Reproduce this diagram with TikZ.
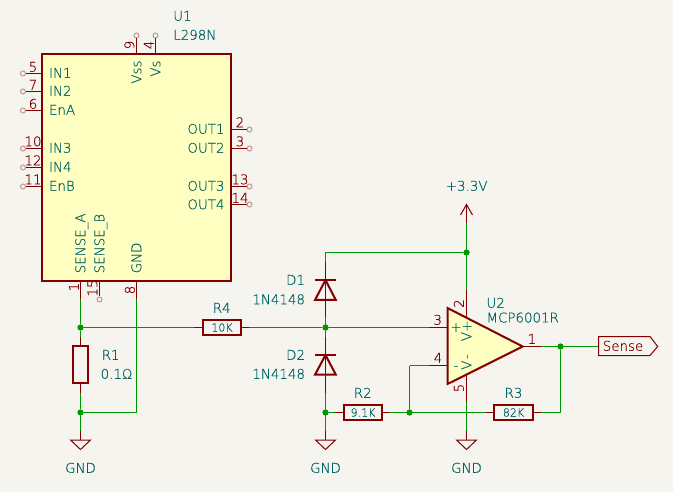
\documentclass[tikz,border=0pt]{standalone}
\usepackage{fontspec}
\setmainfont[FakeBold=0.3]{DejaVu Sans ExtraLight}
\definecolor{bgc}{HTML}{F5F4EF}
\definecolor{sym}{HTML}{840000}
\definecolor{wirec}{HTML}{009600}
\definecolor{txt}{HTML}{006464}
\definecolor{bodyc}{HTML}{FFFFC2}
\definecolor{endc}{HTML}{C49494}
\tikzset{
  lbl/.style={inner sep=0pt,outer sep=0pt,text height=9.5pt,text depth=0pt,text=txt,font=\fontsize{13.4}{13.4}\selectfont},
  small/.style={lbl,text height=8pt,font=\fontsize{11}{11}\selectfont},
  num/.style={lbl,text=sym},
  vert/.style={rotate=90},
  pinline/.style={draw=sym,line width=1pt},
  wire/.style={draw=wirec,line width=1pt},
  body/.style={draw=sym,line width=2pt,line join=miter},
  resh/.style={rectangle,draw=sym,line width=2pt,inner sep=0pt,outer sep=0pt,minimum width=38.5pt,minimum height=15pt},
  resv/.style={resh,minimum width=15pt,minimum height=37.5pt},
  pinend/.style={circle,draw=endc,line width=1pt,inner sep=0pt,minimum size=5pt},
  dot/.style={circle,fill=wirec,inner sep=0pt,minimum size=6pt},
  gndsym/.style={draw=sym,line width=1pt,line join=miter},
}
\begin{document}
\begin{tikzpicture}[x=1pt,y=-1pt]
\useasboundingbox[fill=bgc] (0,0) rectangle (673,492);

% U1 body
\node[rectangle,draw=sym,fill=bodyc,line width=2pt,inner sep=0pt,outer sep=0pt,minimum width=188.5pt,minimum height=227pt] (u1) at (136.5,167.5) {};

% U1 pin ends
\node[pinend] (p5) at (23,73.5) {};
\node[pinend] (p7) at (23,91.5) {};
\node[pinend] (p6) at (23,110.5) {};
\node[pinend] (p10) at (23,148.5) {};
\node[pinend] (p12) at (23,167.5) {};
\node[pinend] (p11) at (23,186.5) {};
\node[pinend] (p2) at (249.5,129.5) {};
\node[pinend] (p3) at (249.5,148.5) {};
\node[pinend] (p13) at (249.5,186.5) {};
\node[pinend] (p14) at (249.5,204.5) {};
\node[pinend] (p9) at (136.5,35.5) {};
\node[pinend] (p4) at (155.5,35.5) {};
\node[pinend] (p15) at (99.5,299.5) {};
\foreach \n/\y in {p5/73.5,p7/91.5,p6/110.5,p10/148.5,p12/167.5,p11/186.5}
  \draw[pinline] (\n.east) -- (42,\y);
\foreach \n/\y in {p2/129.5,p3/148.5,p13/186.5,p14/204.5}
  \draw[pinline] (\n.west) -- (230.5,\y);
\draw[pinline] (p9.south) -- (136.5,54);
\draw[pinline] (p4.south) -- (155.5,54);
\draw[pinline] (p15.north) -- (99.5,281);

% junctions and free wire points
\coordinate (u1a) at (80.5,299.5);
\coordinate (u1g) at (136.5,299.5);
\node[dot] (j1) at (80.5,327.5) {};
\node[dot] (j2) at (80.5,412.5) {};
\node[dot] (j3) at (325.5,327.5) {};
\node[dot] (j4) at (325.5,412.5) {};
\node[dot] (j5) at (409.5,412.5) {};
\node[dot] (j6) at (466.5,252.5) {};
\node[dot] (j7) at (560.5,346.5) {};
\coordinate (c2) at (136.5,412.5);
\coordinate (c3) at (325.5,252.5);
\coordinate (c4) at (409.5,365.5);
\coordinate (c5) at (560.5,412.5);

% components
\node[resv] (r1) at (80.5,364.7) {};
\node[resh] (r4) at (222,327.5) {};
\node[resh] (r2) at (363,412.5) {};
\node[resh] (r3) at (513.5,412.5) {};

% symbol coordinates
\coordinate (d1a) at (325.5,262);
\coordinate (d1b) at (325.5,317);
\coordinate (d2a) at (325.5,337);
\coordinate (d2b) at (325.5,393);
\coordinate (g1) at (80.5,431);
\coordinate (g2) at (325.5,431);
\coordinate (g3) at (466.5,431);
\coordinate (r1t) at (80.5,337);
\coordinate (r1b) at (80.5,393);
\coordinate (r4l) at (194,327.5);
\coordinate (r4r) at (249,327.5);
\coordinate (r2l) at (335,412.5);
\coordinate (r2r) at (390,412.5);
\coordinate (r3l) at (486,412.5);
\coordinate (r3r) at (541,412.5);
\coordinate (o3) at (429,327.5);
\coordinate (o4) at (429,365.5);
\coordinate (o2) at (466.5,290);
\coordinate (o5) at (466.5,401.7);
\coordinate (o1) at (541,346.5);
\coordinate (pw) at (466.5,222.7);
\coordinate (tip) at (522.7,346.5);

% wires
\draw[wire] (u1a) -- (j1) -- (r1t);
\draw[wire] (r1b) -- (j2) -- (g1);
\draw[wire] (j1) -- (r4l);
\draw[wire] (r4r) -- (j3);
\draw[wire] (j2) -- (c2) -- (u1g);
\draw[wire] (c3) -- (j6);
\draw[wire] (c3) -- (d1a);
\draw[wire] (d1b) -- (d2a);
\draw[wire] (d2b) -- (g2);
\draw[wire] (j3) -- (o3);
\draw[wire] (j4) -- (r2l);
\draw[wire] (r2r) -- (r3l);
\draw[wire] (c4) -- (j5);
\draw[wire] (c4) -- (o4);
\draw[wire] (r3r) -- (c5) -- (j7);
\draw[wire] (pw) -- (o2);
\draw[wire] (o5) -- (g3);
\draw[wire] (o1) -- (598.5,346.5);

% redraw dots over wires
\foreach \j in {j1,j2,j3,j4,j5,j6,j7} \fill[wirec] (\j) circle (3pt);

% U1 power stubs
\draw[pinline] (80.5,281) -- (u1a);
\draw[pinline] (136.5,281) -- (u1g);

% resistor leads
\draw[pinline] (r1t) -- (r1.north);
\draw[pinline] (r1.south) -- (r1b);
\draw[pinline] (r4l) -- (r4.west);
\draw[pinline] (r4.east) -- (r4r);
\draw[pinline] (r2l) -- (r2.west);
\draw[pinline] (r2.east) -- (r2r);
\draw[pinline] (r3l) -- (r3.west);
\draw[pinline] (r3.east) -- (r3r);

% diodes
\draw[pinline] (d1a) -- (d1b);
\draw[pinline] (d2a) -- (d2b);
\draw[body] (315,280) -- (335.8,280);
\draw[body] (325.5,280) -- (315,300) -- (335.8,300) -- cycle;
\draw[body] (315,355) -- (335.8,355);
\draw[body] (325.5,355) -- (315,374.7) -- (335.8,374.7) -- cycle;

% grounds
\foreach \g/\x in {g1/80.5,g2/325.5,g3/466.5}{
  \draw[pinline] (\g) -- (\x,440);
  \draw[gndsym] (\x-10,440) -- (\x+10,440) -- (\x,449.5) -- cycle;
}

% +3.3V
\draw[pinline] (pw) -- (466.5,204.5);
\draw[pinline] (460.5,215) -- (466.5,204.5) -- (472.5,215);

% op amp
\draw[pinline] (o2) -- (466.5,318);
\draw[pinline] (o5) -- (466.5,372);
\draw[pinline] (o3) -- (447.5,327.5);
\draw[pinline] (o4) -- (447.5,365.5);
\draw[pinline] (tip) -- (o1);
\draw[body,fill=bodyc] (447.5,308) -- (tip) -- (447.5,384) -- cycle;

% Sense flag
\draw[draw=sym,line width=1pt,line join=miter] (598.5,336.5) -- (650,336.5) -- (657.7,346.5) -- (650,355.5) -- (598.5,355.5) -- cycle;
\node[num] (senselab) at (623,346) {Sense};

% labels U1
\node[lbl,anchor=west] (u1ref) at (173.3,16) {U1};
\node[lbl,anchor=west] (u1val) at (173.3,35) {L298N};
\foreach \t/\y in {IN1/73,IN2/91,EnA/110,IN3/148,IN4/167,EnB/186}
  \node[lbl,anchor=west] at (49,\y) {\t};
\foreach \t/\y in {OUT1/129,OUT2/148,OUT3/186,OUT4/204.5}
  \node[lbl,anchor=east] at (224.5,\y) {\t};
\node[lbl,vert,anchor=east] (nvss) at (136.5,60.5) {Vss};
\node[lbl,vert,anchor=east] (nvs) at (155.5,60.5) {Vs};
\node[lbl,vert,anchor=west] (nsa) at (80.5,273.3) {SENSE\_A};
\node[lbl,vert,anchor=west] (nsb) at (99.5,273.3) {SENSE\_B};
\node[lbl,vert,anchor=west] (ngnd) at (136.5,273.3) {GND};

% pin numbers
\foreach \t/\x/\y in {5/33/67,7/33/85,6/33/104,10/33/141.5,12/33/160.5,11/33/179.5,2/240/122.5,3/240/141.5,13/240/179.5,14/240/198}
  \node[num] at (\x,\y) {\t};
\foreach \t/\x/\y in {9/129.5/45,4/149/45,1/74/287,15/92.5/288,8/130/290,2/459/303.5,5/459/388}
  \node[num,vert] at (\x,\y) {\t};
\node[num] (on3) at (437.7,320) {3};
\node[num] (on4) at (438,358) {4};
\node[num] (on1) at (532,339) {1};

% component labels
\node[lbl,anchor=west] (r1ref) at (101.7,355) {R1};
\node[lbl,anchor=west] (r1val) at (100.7,374) {0.1Ω};
\node[lbl] (r4ref) at (221.7,308) {R4};
\node[small] (r4val) at (r4) {10K};
\node[lbl] (r2ref) at (362.7,393) {R2};
\node[small] (r2val) at (r2) {9.1K};
\node[lbl] (r3ref) at (513.5,393) {R3};
\node[small] (r3val) at (r3) {82K};
\node[lbl,anchor=east] (d1ref) at (305,280) {D1};
\node[lbl,anchor=east] (d1val) at (305,299.5) {1N4148};
\node[lbl,anchor=east] (d2ref) at (305,355) {D2};
\node[lbl,anchor=east] (d2val) at (305,374) {1N4148};
\node[lbl,anchor=west] (u2ref) at (486.5,303) {U2};
\node[lbl,anchor=west] (u2val) at (486.5,317.7) {MCP6001R};
\node[lbl] (pwr) at (466.7,186) {+3.3V};
\node[lbl] (gl1) at (80.5,468) {GND};
\node[lbl] (gl2) at (325.5,468) {GND};
\node[lbl] (gl3) at (466.5,468) {GND};

% op amp inner labels
\node[lbl] (plus1) at (456,327) {+};
\node[lbl] (minus1) at (456,365.3) {-};
\node[lbl,vert] (vp) at (466.5,331) {V+};
\node[lbl,vert] (vm) at (466.5,362) {V\kern1.5pt-};
\end{tikzpicture}
\end{document}
